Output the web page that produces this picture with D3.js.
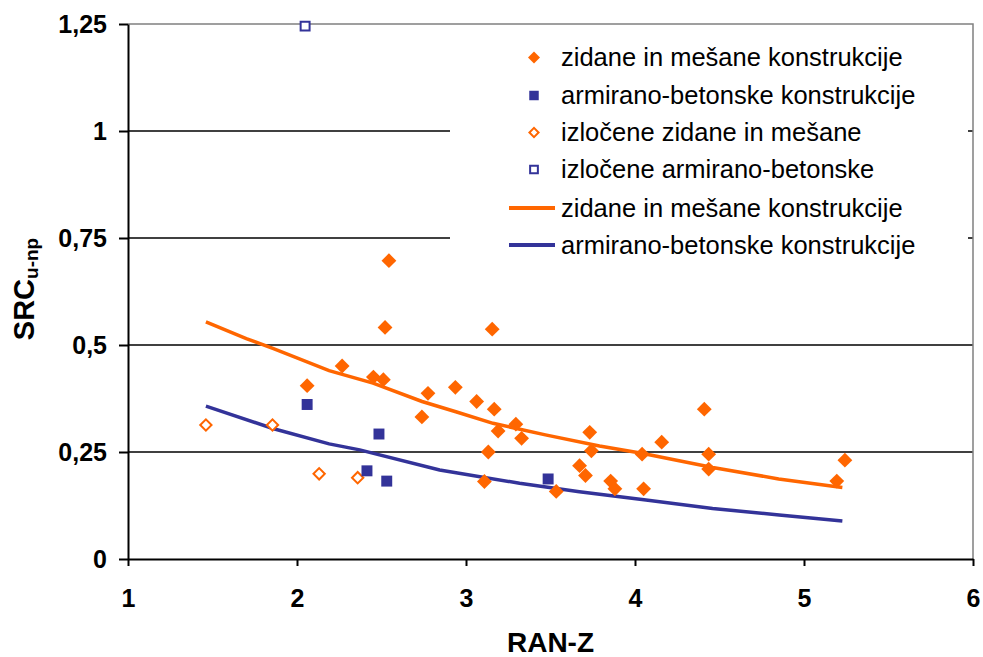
<!DOCTYPE html>
<html lang="sl">
<head>
<meta charset="UTF-8">
<title>SRC u-np / RAN-Z</title>
<script src="https://cdn.jsdelivr.net/npm/d3@7"></script>
<style>
  body { margin: 0; background: #fff; }
  svg text { font-family: "Liberation Sans", Arial, sans-serif; fill: #000; }
</style>
</head>
<body>
<div id="chart"></div>
<script>
// data: [RAN-Z, SRC u-np]
var zidane = [
  [2.060, 0.405], [2.267, 0.451], [2.452, 0.425], [2.511, 0.419], [2.544, 0.697],
  [2.521, 0.541], [2.739, 0.332], [2.775, 0.387], [2.937, 0.401], [3.063, 0.368],
  [3.155, 0.537], [3.167, 0.350], [3.190, 0.299], [3.295, 0.315], [3.329, 0.282],
  [3.132, 0.250], [3.109, 0.181], [3.534, 0.158], [3.732, 0.296], [3.742, 0.253],
  [3.672, 0.218], [3.707, 0.195], [3.856, 0.182], [3.881, 0.164], [4.042, 0.245],
  [4.051, 0.164], [4.158, 0.273], [4.410, 0.350], [4.436, 0.245], [4.436, 0.210],
  [5.194, 0.182], [5.242, 0.231]
];
var armirano = [
  [2.060, 0.361], [2.485, 0.292], [2.414, 0.206], [2.531, 0.182], [3.486, 0.187]
];
var izlZidane = [
  [1.461, 0.313], [1.855, 0.313], [2.131, 0.199], [2.359, 0.190]
];
var izlArmirano = [
  [2.048, 1.245]
];
var trendZidane = [
  [1.461, 0.554], [1.700, 0.515], [1.857, 0.492], [2.190, 0.440], [2.450, 0.411],
  [2.740, 0.368], [2.940, 0.344], [3.160, 0.317], [3.470, 0.290], [3.790, 0.264],
  [4.040, 0.247], [4.460, 0.214], [4.850, 0.187], [5.227, 0.167]
];
var trendArmirano = [
  [1.461, 0.357], [1.857, 0.305], [2.190, 0.269], [2.371, 0.255], [2.844, 0.208],
  [3.317, 0.177], [3.671, 0.157], [4.065, 0.138], [4.459, 0.118], [4.853, 0.103],
  [5.227, 0.089]
];
var xTicks = [1, 2, 3, 4, 5, 6];
var yTicks = [0, 0.25, 0.5, 0.75, 1, 1.25];
var legendItems = [
  { label: "zidane in mešane konstrukcije", kind: "diamond" },
  { label: "armirano-betonske konstrukcije", kind: "square" },
  { label: "izločene zidane in mešane", kind: "odiamond" },
  { label: "izločene armirano-betonske", kind: "osquare" },
  { label: "zidane in mešane konstrukcije", kind: "oline" },
  { label: "armirano-betonske konstrukcije", kind: "bline" }
];

var orange = "#ff6600", blue = "#333399";
var w = 983, h = 657;
var pLeft = 128, pRight = 973, pTop = 24, pBottom = 559;

var svg = d3.select("#chart").append("svg")
  .attr("width", w).attr("height", h);

var xScale = d3.scaleLinear().domain([1, 6]).range([pLeft, pRight]);
var yScale = d3.scaleLinear().domain([0, 1.25]).range([pBottom, pTop]);

var comma = function(d) { return String(d).replace(".", ","); };

// gridlines
svg.append("g").selectAll("line")
  .data(yTicks.filter(function(d) { return d > 0 && d < 1.25; }))
  .enter().append("line")
  .attr("x1", pLeft).attr("x2", pRight)
  .attr("y1", function(d) { return yScale(d); })
  .attr("y2", function(d) { return yScale(d); })
  .attr("stroke", "#000").attr("stroke-width", 1.5);

// plot border (top and right)
svg.append("path")
  .attr("d", "M" + pLeft + "," + pTop + "H" + pRight + "V" + pBottom)
  .attr("fill", "none").attr("stroke", "#808080").attr("stroke-width", 1.5);

// legend box, covers the gridlines
var lg = svg.append("g");
lg.append("rect")
  .attr("x", 450).attr("y", 30).attr("width", 518).attr("height", 240)
  .attr("fill", "#fff");

// axes
var yAxis = d3.axisLeft(yScale).tickValues(yTicks).tickFormat(comma)
  .tickSize(9).tickSizeOuter(0);
var gy = svg.append("g").attr("transform", "translate(" + pLeft + ",0)").call(yAxis);
gy.select(".domain").attr("stroke", "#000").attr("stroke-width", 2);
gy.selectAll(".tick line").attr("stroke", "#000").attr("stroke-width", 2);
gy.selectAll(".tick text")
  .attr("x", -21).attr("dy", "0.35em")
  .style("font-size", "25px").style("font-weight", "bold");

var xAxis = d3.axisBottom(xScale).tickValues(xTicks).tickFormat(d3.format("d"))
  .tickSize(7).tickSizeOuter(0);
var gx = svg.append("g").attr("transform", "translate(0," + pBottom + ")").call(xAxis);
gx.select(".domain").attr("stroke", "#000").attr("stroke-width", 2);
gx.selectAll(".tick line").attr("stroke", "#000").attr("stroke-width", 2);
gx.selectAll(".tick text")
  .attr("y", 39).attr("dy", "0.35em")
  .style("font-size", "25px").style("font-weight", "bold");

// axis titles
svg.append("text")
  .attr("x", (pLeft + pRight) / 2).attr("y", 652)
  .attr("text-anchor", "middle")
  .style("font-size", "28px").style("font-weight", "bold")
  .text("RAN-Z");

var yt = svg.append("text")
  .attr("transform", "translate(34,289) rotate(-90)")
  .attr("text-anchor", "middle")
  .style("font-size", "29px").style("font-weight", "bold");
yt.append("tspan").text("SRC");
yt.append("tspan").attr("dy", 4).style("font-size", "19px").text("u-np");

// trend lines
var line = d3.line()
  .x(function(d) { return xScale(d[0]); })
  .y(function(d) { return yScale(d[1]); });

svg.append("path").datum(trendZidane)
  .attr("d", line).attr("fill", "none")
  .attr("stroke", orange).attr("stroke-width", 3.5);
svg.append("path").datum(trendArmirano)
  .attr("d", line).attr("fill", "none")
  .attr("stroke", blue).attr("stroke-width", 3.5);

// markers
var sq = function(size) { return d3.symbol().type(d3.symbolSquare).size(size)(); };

function drawMarkers(data, kind) {
  var isDia = kind.indexOf("diamond") >= 0;
  var open = kind.charAt(0) === "o";
  svg.append("g").selectAll("path")
    .data(data).enter().append("path")
    .attr("d", isDia ? sq(open ? 64 : 110) : sq(open ? 80 : 120))
    .attr("transform", function(d) {
      return "translate(" + xScale(d[0]) + "," + yScale(d[1]) + ")" +
        (isDia ? " rotate(45)" : "");
    })
    .attr("fill", open ? "#fff" : (isDia ? orange : blue))
    .attr("stroke", open ? (isDia ? orange : blue) : "none")
    .attr("stroke-width", 2);
}
drawMarkers(izlZidane, "odiamond");
drawMarkers(izlArmirano, "osquare");
drawMarkers(armirano, "square");
drawMarkers(zidane, "diamond");

// legend entries
var rowY = [57.5, 95.5, 132.5, 169.5, 208, 245];
legendItems.forEach(function(item, i) {
  var y = rowY[i];
  if (item.kind === "oline" || item.kind === "bline") {
    lg.append("line")
      .attr("x1", 509).attr("x2", 555).attr("y1", y).attr("y2", y)
      .attr("stroke", item.kind === "oline" ? orange : blue).attr("stroke-width", 4);
  } else {
    var isDia = item.kind.indexOf("diamond") >= 0;
    var open = item.kind.charAt(0) === "o";
    lg.append("path")
      .attr("d", isDia ? sq(open ? 42 : 72) : sq(open ? 60 : 90))
      .attr("transform", "translate(534," + y + ")" + (isDia ? " rotate(45)" : ""))
      .attr("fill", open ? "#fff" : (isDia ? orange : blue))
      .attr("stroke", open ? (isDia ? orange : blue) : "none")
      .attr("stroke-width", 2);
  }
  lg.append("text")
    .attr("x", 561).attr("y", y).attr("dy", "0.35em")
    .style("font-size", "25.5px")
    .text(item.label);
});
</script>
</body>
</html>
